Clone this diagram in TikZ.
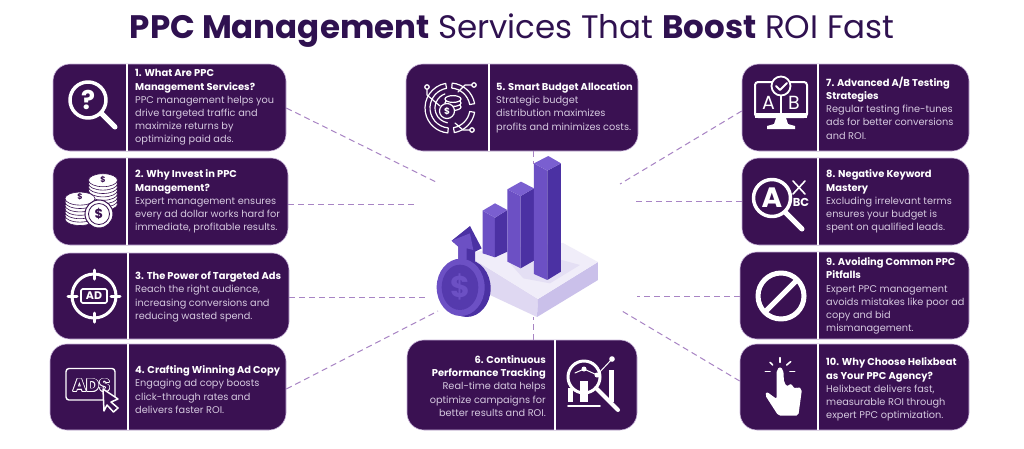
\documentclass[tikz,border=0pt]{standalone}
\usepackage{fontspec}
\setmainfont{Poppins}
\definecolor{mydark}{HTML}{3A1152}
\definecolor{mytitle}{HTML}{2F1150}
\definecolor{myedge}{HTML}{C9B5DA}
\definecolor{mybody}{HTML}{D6CAE0}
\definecolor{mylink}{HTML}{A884C4}
\definecolor{mybar}{HTML}{6C50C4}
\definecolor{mybarside}{HTML}{4B31A3}
\definecolor{mybartop}{HTML}{7A5FD0}
\newcommand{\hd}[1]{{\fontsize{9.9}{13.2}\selectfont\bfseries\color{white}#1}}
\tikzset{
	card/.style={rectangle,rounded corners=17pt,fill=mydark,draw=myedge,line width=.6pt,inner sep=0pt},
	divider/.style={draw=white,line width=1.6pt},
	link/.style={draw=mylink,line width=1pt,dash pattern=on 6pt off 4pt},
	txt/.style={anchor=west,align=left,inner sep=0pt,text=mybody,font=\fontsize{9.75}{13.2}\selectfont},
	icon/.style={draw=white,line width=2pt,line cap=round,line join=round},
	glyph/.style={text=white,inner sep=0pt,font=\bfseries}
}
\begin{document}
\begin{tikzpicture}[x=1pt,y=-1pt]
	\useasboundingbox[fill=white] (0,0) rectangle (1024,448);
	\node[inner sep=0pt,text=mytitle,font=\fontsize{32.5}{36}\selectfont] (title) at (512,31) {\textbf{PPC Management} Services That \textbf{Boost} ROI Fast};

	\foreach \n/\x/\y/\w/\h in {1/169.5/107.5/233/87,2/170.5/201.5/235/87,3/171/296/236/86,4/168/387/236/86,
		5/522/107.5/232/87,6/522/385/230/90,7/855.5/107.5/227/87,8/855.5/201.5/227/87,9/854.5/295.5/229/87,10/854.5/387/229/86}
	\node[card,minimum width=\w pt,minimum height=\h pt] (b\n) at (\x,\y) {};
	\foreach \n/\x in {1/127,2/127,3/128,4/128,5/489,6/555,7/818,8/818,9/818,10/818}
	\draw[divider] (\x,0 |- b\n.north) -- (\x,0 |- b\n.south);

	\coordinate (c1) at (438,183);
	\coordinate (c2) at (417,204);
	\coordinate (c3) at (427,297);
	\coordinate (c4) at (438,311);
	\coordinate (c5) at (533,164);
	\coordinate (c6) at (533,317);
	\coordinate (c7) at (620,184);
	\coordinate (c8) at (636,201);
	\coordinate (c9) at (637,296);
	\coordinate (c10) at (622,311);
	\foreach \a/\b/\y in {1/1/108,2/2/204,3/3/297,4/4/389}
	\draw[link] (b\a.east |- 0,\y) -- (c\b);
	\foreach \a/\b/\y in {7/7/111,8/8/201,9/9/296,10/10/381}
	\draw[link] (b\a.west |- 0,\y) -- (c\b);
	\draw[link] (c5 |- b5.south) -- (c5);
	\draw[link] (c6 |- b6.north) -- (c6);

	\node[txt] (t1) at (135,107.5) {\hd{1. What Are PPC}\\\hd{Management Services?}\\PPC management helps you\\drive targeted traffic and\\maximize returns by\\optimizing paid ads.};
	\node[txt] (t2) at (135,201.5) {\hd{2. Why Invest in PPC}\\\hd{Management?}\\Expert management ensures\\every ad dollar works hard for\\immediate, profitable results.};
	\node[txt] (t3) at (135,297) {\hd{3. The Power of Targeted Ads}\\Reach the right audience,\\increasing conversions and\\reducing wasted spend.};
	\node[txt] (t4) at (135,389.5) {\hd{4. Crafting Winning Ad Copy}\\Engaging ad copy boosts\\click-through rates and\\delivers faster ROI.};
	\node[txt] (t5) at (496,107.5) {\hd{5. Smart Budget Allocation}\\Strategic budget\\distribution maximizes\\profits and minimizes costs.};
	\node[txt,anchor=east,align=right] (t6) at (546,386) {\hd{6. Continuous}\\\hd{Performance Tracking}\\Real-time data helps\\optimize campaigns for\\better results and ROI.};
	\node[txt] (t7) at (826,108) {\hd{7. Advanced A/B Testing}\\\hd{Strategies}\\Regular testing fine-tunes\\ads for better conversions\\and ROI.};
	\node[txt] (t8) at (826,201.5) {\hd{8. Negative Keyword}\\\hd{Mastery}\\Excluding irrelevant terms\\ensures your budget is\\spent on qualified leads.};
	\node[txt] (t9) at (826,296) {\hd{9. Avoiding Common PPC}\\\hd{Pitfalls}\\Expert PPC management\\avoids mistakes like poor ad\\copy and bid\\mismanagement.};
	\node[txt] (t10) at (826,389.5) {\hd{10. Why Choose Helixbeat}\\\hd{as Your PPC Agency?}\\Helixbeat delivers fast,\\measurable ROI through\\expert PPC optimization.};

	\draw[icon,line width=3.5pt] (88,100) circle (18);
	\draw[icon,line width=5pt] (102,114) -- (115,127);
	\node[glyph,font=\fontsize{26}{26}\bfseries] (q1) at (88,100) {?};

	\foreach \k in {0,...,7}
	\draw[fill=white,draw=mydark,line width=.6pt] (103,{204-\k*3.4}) ellipse (14.5 and 6.5);
	\node[glyph,text=mydark,font=\fontsize{8}{8}\bfseries] (d2a) at (103,180) {\$};
	\foreach \k in {0,...,6}
	\draw[fill=white,draw=mydark,line width=.6pt] (80,{219-\k*3.4}) ellipse (15 and 6.5);
	\node[glyph,text=mydark,font=\fontsize{8}{8}\bfseries] (d2b) at (80,197) {\$};
	\draw[fill=white,draw=mydark,line width=1pt] (99,214) circle (14);
	\draw[draw=mydark,line width=.8pt] (99,214) circle (10.5);
	\node[glyph,text=mydark,font=\fontsize{13}{13}\bfseries] (d2c) at (99,214) {\$};

	\draw[icon,line width=3pt] (94,296) circle (22);
	\foreach \a/\b/\c/\d in {94/270/94/279,94/313/94/322,68/296/77/296,111/296/120/296}
	\draw[icon,line width=3pt] (\a,\b) -- (\c,\d);
	\draw[icon,fill=mydark,rounded corners=1.5pt,line width=1.6pt] (81,289) rectangle (107,303);
	\node[glyph,font=\fontsize{11}{11}\bfseries] (ad3) at (94,296) {AD};

	\draw[icon,rounded corners=3pt,line width=1.4pt] (66,368.5) rectangle (115,400);
	\foreach \i/\p/\q in {1/-.8/0,2/.8/0,3/0/-.8,4/0/.8,5/-.6/-.6,6/.6/-.6,7/-.6/.6,8/.6/.6}
	\node[glyph,font=\fontsize{18}{18}\bfseries] (ad4\i) at (91.5+\p,385.5+\q) {ADS};
	\node[glyph,text=mydark,font=\fontsize{18}{18}\bfseries] (ad4) at (91.5,385.5) {ADS};
	\draw[icon,fill=mydark,line width=1.5pt] (103,389) -- (118,399) -- (111,402) -- (118,408) -- (113.5,412) -- (107,405) -- (104,411) -- cycle;

	\foreach \a/\b in {10/85,280/350,100/265}
	\draw[icon,line width=1.2pt] ({450+25*cos(\a)},{108-25*sin(\a)}) arc[start angle=\a,end angle=\b,radius=25pt] -- ({450+20*cos(\b)},{108-20*sin(\b)}) arc[start angle=\b,end angle=\a,radius=20pt] -- cycle;
	\draw[icon,line width=1.2pt] ({450+15*cos(110)},{108-15*sin(110)}) arc[start angle=110,end angle=260,radius=15pt];
	\draw[icon,line width=1.2pt] (427,87) -- (427,95) -- (440,106);
	\draw[icon,line width=1.2pt] (474,85) -- (465,85) -- (458,92);
	\draw[icon,line width=1.2pt] (472,130) -- (463,130) -- (455,123);
	\foreach \x/\y in {427/87,474/85,472/130}
	\draw[icon,fill=mydark,line width=1.3pt] (\x,\y) circle (2.2);
	\foreach \k in {0,1,2}
	\draw[icon,fill=mydark,line width=1.2pt] (453,{107-\k*4}) ellipse (8 and 3.4);
	\draw[icon,fill=mydark,line width=1.2pt] (447,111) circle (7.5);
	\node[glyph,font=\fontsize{9}{9}\bfseries] (d5) at (447,111) {\$};

	\draw[icon,line width=1.8pt] (568,406) -- (600,406);
	\foreach \x/\y/\w in {568/388/5,580/381/8,609/370/5}
	\fill[white] (\x,\y) rectangle (\x+\w,402);
	\draw[icon,line width=3pt] (584,377) circle (16);
	\draw[icon,line width=4pt] (596,388) -- (618,410);
	\draw[icon,line width=1pt] (575,373) -- (584,369) -- (597,375) -- (612,359);
	\foreach \x/\y/\r in {584/369/2.5,597/375/2.5,612/359/2.8}
	\fill[white] (\x,\y) circle (\r);

	\draw[icon,rounded corners=3pt] (755,82) rectangle (807,117);
	\fill[white] (755,113) rectangle (807,118);
	\fill[white] (776,118) -- (786,118) -- (788,124) -- (795,126) -- (795,129) -- (767,129) -- (767,126) -- (774,124) -- cycle;
	\draw[icon,line width=1.2pt] (781,96) -- (781,113);
	\node[glyph,font=\fontsize{19}{19}\selectfont] (a7) at (768.5,103) {A};
	\node[glyph,font=\fontsize{19}{19}\selectfont] (b7l) at (794,103) {B};
	\draw[icon,fill=mydark,line width=1.8pt] (781,86) circle (9.5);
	\draw[icon,line width=1.8pt] (776,86) -- (780,90) -- (787,83);

	\draw[icon,line width=3.5pt] (772,198) circle (18.5);
	\draw[icon,line width=5pt] (786,213) -- (802,229);
	\node[glyph,font=\fontsize{28}{28}\bfseries] (a8) at (772,198) {A};
	\draw[icon,line width=1.6pt] (793,181) -- (805,194);
	\draw[icon,line width=1.6pt] (805,181) -- (793,194);
	\node[glyph,font=\fontsize{11.5}{12}\bfseries] (bc8) at (801,202) {BC};

	\draw[icon,line width=5pt] (781,296) circle (23);
	\draw[icon,line width=5pt,line cap=butt] (765,312) -- (797,280);

	\begin{scope}[shift={(720,245)},x=.3333pt,y=-.3333pt]
		\fill[white,rounded corners=2pt] (180,365) -- (170,375) -- (170,462) -- (140,440) -- (135,450) -- (175,512) -- (235,512) -- (246,432) -- (232,425) -- (225,432) -- (212,415) -- (202,425) -- (192,412) -- (190,375) -- cycle;
		\foreach \a/\b/\c/\d in {180/338/180/352,150/352/158/360,212/350/200/360,136/380/150/380,210/380/224/380}
		\draw[icon,line width=1.6pt] (\a,\b) -- (\c,\d);
	\end{scope}

	\begin{scope}[shift={(410,150)},x=.3333pt,y=-.3333pt]
		\fill[mybar!22!white] (195,330) -- (384,447) -- (381,501) -- (240,435) -- (195,400) -- cycle;
		\fill[mybar!36!white] (384,447) -- (564,336) -- (564,390) -- (381,501) -- cycle;
		\fill[mybar!10!white] (195,305) -- (459,279) -- (564,336) -- (384,447) -- (195,330) -- cycle;
		\fill[mybar!18!white] (300,340) -- (455,330) -- (510,345) -- (420,400) -- (340,385) -- cycle;

		\fill[mybar] (218,182) -- (255,203) -- (255,322) -- (218,310) -- cycle;
		\fill[mybarside] (255,203) -- (292,180) -- (292,305) -- (255,322) -- cycle;
		\fill[mybartop] (218,182) -- (255,160) -- (292,180) -- (255,203) -- cycle;

		\fill[mybar] (292,118) -- (332,138) -- (332,355) -- (292,335) -- cycle;
		\fill[mybarside] (332,138) -- (372,115) -- (372,332) -- (332,355) -- cycle;
		\fill[mybartop] (292,118) -- (333,95) -- (372,115) -- (332,138) -- cycle;

		\fill[mybar] (372,40) -- (412,62) -- (412,390) -- (372,372) -- cycle;
		\fill[mybarside] (412,62) -- (453,40) -- (453,365) -- (412,390) -- cycle;
		\fill[mybartop] (372,40) -- (415,18) -- (453,40) -- (412,62) -- cycle;

		\fill[mybarside] (145,345) -- (145,290) -- (125,272) -- (180,228) -- (215,295) -- (195,305) -- (195,350) -- cycle;
		\fill[mybar] (145,345) -- (145,290) -- (125,272) -- (180,250) -- (190,300) -- (170,295) -- (170,345) -- cycle;
		\fill[mybarside] (170,415) ellipse (72 and 86);
		\fill[mybar] (152,412) ellipse (72 and 86);
		\fill[mybarside!70!mybar] (150,412) ellipse (55 and 68);
		\node[text=mybar,inner sep=0pt,font=\fontsize{30}{30}\bfseries] (d0) at (150,412) {\$};
	\end{scope}
\end{tikzpicture}
\end{document}
